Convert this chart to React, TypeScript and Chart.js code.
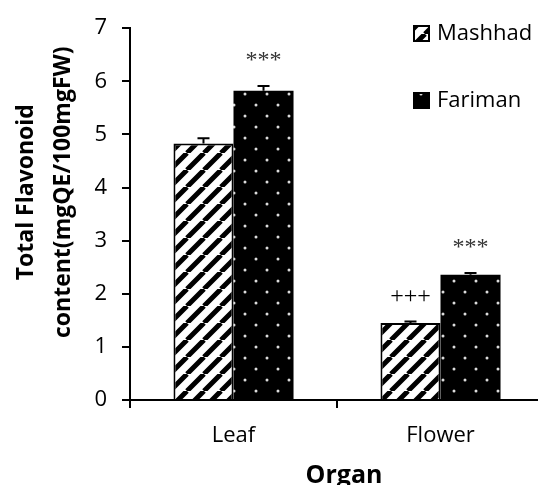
import React, { useEffect, useRef } from 'react';
import { Chart, registerables } from 'chart.js';

Chart.register(...registerables);

const categories = ['Leaf', 'Flower'];
const seriesNames = ['Mashhad', 'Fariman'];
const mashhadValues = [4.83, 1.45];
const farimanValues = [5.82, 2.36];
const mashhadErrors = [0.1, 0.03];
const farimanErrors = [0.09, 0.03];
const mashhadMarks = ['', '+++'];
const farimanMarks = ['***', '***'];
const yTicks = [0, 1, 2, 3, 4, 5, 6, 7];
const yTitleLines = ['Total Flavonoid', 'content(mgQE/100mgFW)'];
const xTitle = 'Organ';

const SANS = '"Open Sans", "Noto Sans", sans-serif';
const SERIF = '"Liberation Serif", "DejaVu Serif", serif';

function stripePattern(ctx: CanvasRenderingContext2D) {
  const p = 17;
  const c = document.createElement('canvas');
  c.width = p;
  c.height = p;
  const g = c.getContext('2d')!;
  g.fillStyle = '#fff';
  g.fillRect(0, 0, p, p);
  g.strokeStyle = '#000';
  g.lineWidth = 5;
  g.beginPath();
  for (let k = -1; k <= 1; k++) {
    g.moveTo(k * p, p);
    g.lineTo(k * p + p, 0);
  }
  g.stroke();
  return ctx.createPattern(c, 'repeat')!;
}

function dotPattern(ctx: CanvasRenderingContext2D) {
  const p = 22;
  const c = document.createElement('canvas');
  c.width = p;
  c.height = p;
  const g = c.getContext('2d')!;
  g.fillStyle = '#000';
  g.fillRect(0, 0, p, p);
  g.fillStyle = '#dcdcdc';
  const pts = [
    [3, 6],
    [14, 17],
  ];
  for (const [x, y] of pts) {
    g.beginPath();
    g.arc(x, y, 1.5, 0, Math.PI * 2);
    g.fill();
  }
  return ctx.createPattern(c, 'repeat')!;
}

export default function App() {
  const ref = useRef<HTMLCanvasElement | null>(null);

  useEffect(() => {
    const canvas = ref.current!;
    const ctx = canvas.getContext('2d')!;
    const stripes = stripePattern(ctx);
    const dots = dotPattern(ctx);
    const errors = [mashhadErrors, farimanErrors];
    const marks = [mashhadMarks, farimanMarks];

    const extras = {
      id: 'extras',
      afterDatasetsDraw(chart: any) {
        const c = chart.ctx as CanvasRenderingContext2D;
        const y = chart.scales.y;
        c.save();
        chart.data.datasets.forEach((ds: any, i: number) => {
          const meta = chart.getDatasetMeta(i);
          meta.data.forEach((bar: any, j: number) => {
            const v = ds.data[j] as number;
            const top = y.getPixelForValue(v + errors[i][j]);
            c.strokeStyle = '#000';
            c.lineWidth = 2;
            c.beginPath();
            c.moveTo(bar.x, bar.y);
            c.lineTo(bar.x, top);
            c.moveTo(bar.x - 6, top);
            c.lineTo(bar.x + 6, top);
            c.stroke();
            const m = marks[i][j];
            if (m) {
              c.fillStyle = m === '***' ? '#333' : '#000';
              c.font = `24px ${SERIF}`;
              c.textAlign = 'center';
              c.textBaseline = 'middle';
              c.fillText(m, bar.x, top - 25);
            }
          });
        });
        c.restore();
      },
      afterDraw(chart: any) {
        const c = chart.ctx as CanvasRenderingContext2D;
        const area = chart.chartArea;
        c.save();
        // legend
        const fills = [stripes, dots];
        const boxX = area.right - 131;
        const boxYs = [25, 92];
        seriesNames.forEach((name, i) => {
          const by = boxYs[i];
          c.fillStyle = fills[i];
          c.fillRect(boxX, by, 17, 17);
          c.strokeStyle = '#000';
          c.lineWidth = 2;
          c.strokeRect(boxX + 1, by + 1, 15, 15);
          c.fillStyle = '#000';
          c.font = `22px ${SANS}`;
          c.textAlign = 'left';
          c.textBaseline = 'middle';
          c.fillText(name, boxX + 24, by + 9);
        });
        // y title
        c.font = `bold 23px ${SANS}`;
        c.textAlign = 'center';
        c.textBaseline = 'alphabetic';
        c.translate(33, area.top + 164);
        c.rotate(-Math.PI / 2);
        c.fillText(yTitleLines[0], 0, 0);
        c.fillText(yTitleLines[1], 0, 36.5);
        c.restore();
        // x title
        c.save();
        c.fillStyle = '#000';
        c.font = `bold 25px ${SANS}`;
        c.textAlign = 'center';
        c.textBaseline = 'alphabetic';
        c.fillText(xTitle, (area.left + area.right) / 2 + 7, 483);
        c.restore();
      },
    };

    const chart = new Chart(canvas, {
      type: 'bar',
      data: {
        labels: categories,
        datasets: [
          {
            label: seriesNames[0],
            data: mashhadValues,
            backgroundColor: stripes as any,
            borderColor: '#000',
            borderWidth: 2,
            categoryPercentage: 0.58,
            barPercentage: 1,
          },
          {
            label: seriesNames[1],
            data: farimanValues,
            backgroundColor: dots as any,
            borderWidth: 0,
            categoryPercentage: 0.58,
            barPercentage: 1,
          },
        ],
      },
      options: {
        responsive: false,
        animation: false,
        devicePixelRatio: 1,
        layout: { padding: { top: 23, right: 8, left: 0, bottom: 0 } },
        plugins: {
          legend: { display: false },
          tooltip: { enabled: false },
        },
        scales: {
          x: {
            afterFit: (s: any) => {
              s.height = 85;
            },
            border: { display: true, color: '#000', width: 2 },
            grid: {
              display: true,
              drawOnChartArea: false,
              drawTicks: true,
              tickLength: 8,
              color: '#000',
              lineWidth: 2,
              offset: true,
            },
            ticks: {
              color: '#000',
              font: { family: SANS, size: 22 },
              padding: 15,
            },
          },
          y: {
            min: yTicks[0],
            max: yTicks[yTicks.length - 1],
            afterFit: (s: any) => {
              s.width = 130;
            },
            border: { display: true, color: '#000', width: 2 },
            grid: {
              display: true,
              drawOnChartArea: false,
              drawTicks: true,
              tickLength: 8,
              color: '#000',
              lineWidth: 2,
            },
            ticks: {
              stepSize: 1,
              color: '#000',
              font: { family: SANS, size: 22 },
              padding: 15,
            },
          },
        },
      },
      plugins: [extras],
    });
    return () => chart.destroy();
  }, []);

  return (
    <div
      style={{
        position: 'fixed',
        left: 0,
        top: 0,
        width: 538,
        height: 485,
        overflow: 'hidden',
        background: '#fff',
      }}
    >
      <canvas ref={ref} width={552} height={485} style={{ display: 'block' }} />
    </div>
  );
}
